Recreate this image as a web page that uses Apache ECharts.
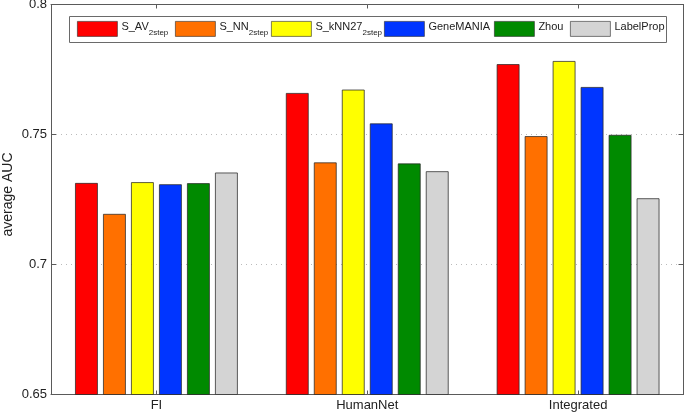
<!DOCTYPE html>
<html>
<head>
<meta charset="utf-8">
<script src="https://cdn.jsdelivr.net/npm/echarts@6/dist/echarts.min.js"></script>
<style>
html,body{margin:0;padding:0;background:#fff;}
#chart{width:685px;height:413px;}
</style>
</head>
<body>
<div id="chart"></div>
<script>
var categories = ['FI', 'HumanNet', 'Integrated'];
var seriesNames = ['S_AV2step', 'S_NN2step', 'S_kNN272step', 'GeneMANIA', 'Zhou', 'LabelProp'];
var S_AV = [0.7314, 0.7660, 0.7771];
var S_NN = [0.7195, 0.7393, 0.7494];
var S_kNN27 = [0.7317, 0.7673, 0.7783];
var GeneMANIA = [0.7309, 0.7543, 0.7683];
var Zhou = [0.7313, 0.7389, 0.7499];
var LabelProp = [0.7354, 0.7359, 0.7255];
var yTicks = [0.65, 0.7, 0.75, 0.8];

var values = [S_AV, S_NN, S_kNN27, GeneMANIA, Zhou, LabelProp];
var colors = ['#ff0000', '#ff7000', '#ffff00', '#0035ff', '#008a00', '#d4d4d4'];
var legendRich = {
  n: {fontSize: 11, fontFamily: 'Liberation Sans', color: '#222', padding: [0, 0, 3, -1]},
  s: {fontSize: 8, fontFamily: 'Liberation Sans', color: '#222', padding: [7, 0, 0, 0]}
};
var legendPos = [77, 175, 271, 384, 494, 570];
var font = 'Liberation Sans';

var series = seriesNames.map(function (name, i) {
  return {
    name: name,
    type: 'bar',
    data: values[i],
    barWidth: 23,
    barGap: '21.7%',
    itemStyle: {color: colors[i], borderColor: 'rgba(40,40,40,0.75)', borderWidth: 1},
    emphasis: {disabled: true},
    animation: false
  };
});

var legends = seriesNames.map(function (name, i) {
  return {
    data: [name],
    left: legendPos[i],
    top: 21,
    padding: 0,
    itemWidth: 40,
    itemHeight: 15,
    itemGap: 0,
    icon: 'rect',
    selectedMode: false,
    itemStyle: {borderWidth: 0.8, borderColor: 'rgba(40,40,40,0.75)'},
    textStyle: {fontSize: 11, fontFamily: font, color: '#222', rich: legendRich},
    formatter: function (n) {
      var m = n.match(/^(.*)(2step)$/);
      if (m) { return '{n|' + m[1] + '}{s|' + m[2] + '}'; }
      return '{n|' + n + '}';
    }
  };
});

var axisLineStyle = {color: '#5a5a5a', width: 1};
var option = {
  backgroundColor: '#ffffff',
  animation: false,
  grid: {left: 51, right: 1.5, top: 4.5, bottom: 18.5, containLabel: false, outerBoundsMode: 'none'},
  legend: legends,
  graphic: [{
    type: 'rect', z: 3,
    shape: {x: 69.5, y: 16.5, width: 597, height: 26},
    style: {fill: '#ffffff', stroke: '#6a6a6a', lineWidth: 1}
  }],
  xAxis: [{
    type: 'category',
    data: categories,
    axisLine: {lineStyle: axisLineStyle},
    axisTick: {show: true, inside: true, alignWithLabel: true, length: 4, lineStyle: axisLineStyle},
    axisLabel: {fontSize: 13, fontFamily: font, color: '#222', margin: 4}
  }, {
    type: 'category',
    data: categories,
    position: 'top',
    axisLine: {show: true, lineStyle: axisLineStyle},
    axisTick: {show: true, inside: true, alignWithLabel: true, length: 4, lineStyle: axisLineStyle},
    axisLabel: {show: false}
  }],
  yAxis: [{
    type: 'value',
    min: 0.65, max: 0.8, interval: 0.05,
    name: 'average AUC',
    nameLocation: 'middle',
    nameGap: 36,
    nameMoveOverlap: false,
    nameTextStyle: {fontSize: 14, fontFamily: font, color: '#222', padding: [0, 0, 0, 10]},
    axisLine: {show: true, lineStyle: axisLineStyle},
    axisTick: {show: true, inside: true, length: 5, lineStyle: axisLineStyle},
    axisLabel: {fontSize: 13, fontFamily: font, color: '#222', margin: 4,
      formatter: function (v) { return String(parseFloat(v.toFixed(2))); }},
    splitLine: {show: true, lineStyle: {color: '#bbbbbb', type: [1, 4], width: 1}}
  }, {
    type: 'value',
    min: 0.65, max: 0.8, interval: 0.05,
    position: 'right',
    axisLine: {show: true, lineStyle: axisLineStyle},
    axisTick: {show: true, inside: true, length: 5, lineStyle: axisLineStyle},
    axisLabel: {show: false},
    splitLine: {show: false}
  }],
  series: series
};

var chart = echarts.init(document.getElementById('chart'), null, {renderer: 'canvas'});
chart.setOption(option);
</script>
</body>
</html>
